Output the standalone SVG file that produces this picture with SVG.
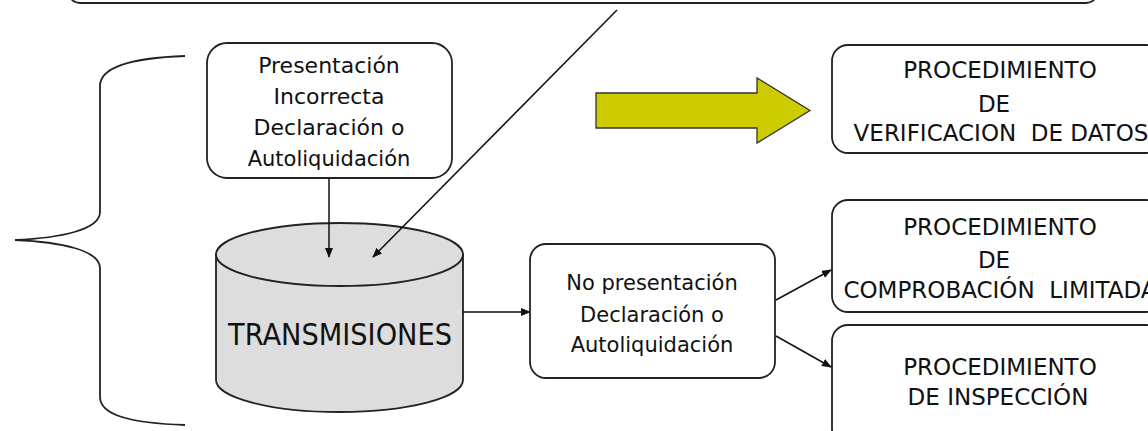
<svg xmlns="http://www.w3.org/2000/svg" width="1148" height="431" viewBox="0 0 1148 431">
<style>
.box{fill:#fff;stroke:#222;stroke-width:1.8}
.t{font-family:"DejaVu Sans","Liberation Sans",sans-serif;fill:#111;text-anchor:middle;white-space:pre}
.s21{font-size:21px}
.s22{font-size:22px}
.s23{font-size:23px}
.con{stroke:#111;stroke-width:1.5;fill:none}
</style>
<defs>
<marker id="ah" markerWidth="10" markerHeight="8" refX="9" refY="4" orient="auto" markerUnits="userSpaceOnUse">
<path d="M0,0 L10,4 L0,8 Z" fill="#111"/>
</marker>
</defs>
<g id="top-box"><rect class="box" x="68" y="-30" width="1030" height="33" rx="12"/></g>
<g id="brace"><path d="M185,56 C130,58 100,68 100,86 L100,212 C100,230 60,238 15,240 C60,242 100,250 100,268 L100,397 C100,415 130,423 185,425" fill="none" stroke="#222" stroke-width="1.8"/></g>
<g id="presentacion-incorrecta">
<rect class="box" x="207" y="43" width="245" height="135" rx="20"/>
<text class="t s22" x="329" y="73">Presentación</text>
<text class="t s22" x="329" y="104">Incorrecta</text>
<text class="t s22" x="329" y="135">Declaración o</text>
<text class="t s21" x="329" y="166">Autoliquidación</text>
</g>
<g id="transmisiones">
<path d="M216,254.5 L216,380 A123.5,32 0 0 0 463,380 L463,254.5 Z" fill="#dddddd" stroke="#222" stroke-width="1.8"/>
<ellipse cx="339.5" cy="254.5" rx="123.5" ry="31.5" fill="#dddddd" stroke="#222" stroke-width="1.8"/>
<text class="t" x="340" y="345" font-size="30" textLength="224" lengthAdjust="spacingAndGlyphs">TRANSMISIONES</text>
</g>
<g id="no-presentacion">
<rect class="box" x="530" y="244" width="245" height="134" rx="16"/>
<text class="t s21" x="652" y="290">No presentación</text>
<text class="t s21" x="652" y="322">Declaración o</text>
<text class="t s21" x="652" y="352">Autoliquidación</text>
</g>
<g id="yellow-arrow"><polygon points="596,93 757,93 757,78 810,110.5 757,143 757,128 596,128" fill="#cccc00" stroke="#333" stroke-width="1.3"/></g>
<g id="verificacion">
<rect class="box" x="832" y="45" width="330" height="108" rx="16"/>
<text class="t s23" x="1000" y="78">PROCEDIMIENTO</text>
<text class="t s23" x="994" y="112">DE</text>
<text class="t s23" x="1001" y="141">VERIFICACION  DE DATOS</text>
</g>
<g id="comprobacion">
<rect class="box" x="832" y="200" width="330" height="112" rx="16"/>
<text class="t s23" x="1000" y="235">PROCEDIMIENTO</text>
<text class="t s23" x="994" y="268">DE</text>
<text class="t s23" x="1000" y="298">COMPROBACIÓN  LIMITADA</text>
</g>
<g id="inspeccion">
<rect class="box" x="832" y="325" width="330" height="120" rx="16"/>
<text class="t s23" x="1000" y="375">PROCEDIMIENTO</text>
<text class="t s23" x="998" y="405">DE INSPECCIÓN</text>
</g>
<g id="connectors">
<line class="con" x1="329" y1="178" x2="329" y2="257" marker-end="url(#ah)"/>
<line class="con" x1="617" y1="10" x2="373" y2="257" marker-end="url(#ah)"/>
<line class="con" x1="463" y1="312" x2="530" y2="312" marker-end="url(#ah)"/>
<line class="con" x1="776" y1="300" x2="831" y2="270" marker-end="url(#ah)"/>
<line class="con" x1="776" y1="336" x2="831" y2="367" marker-end="url(#ah)"/>
</g>
</svg>
